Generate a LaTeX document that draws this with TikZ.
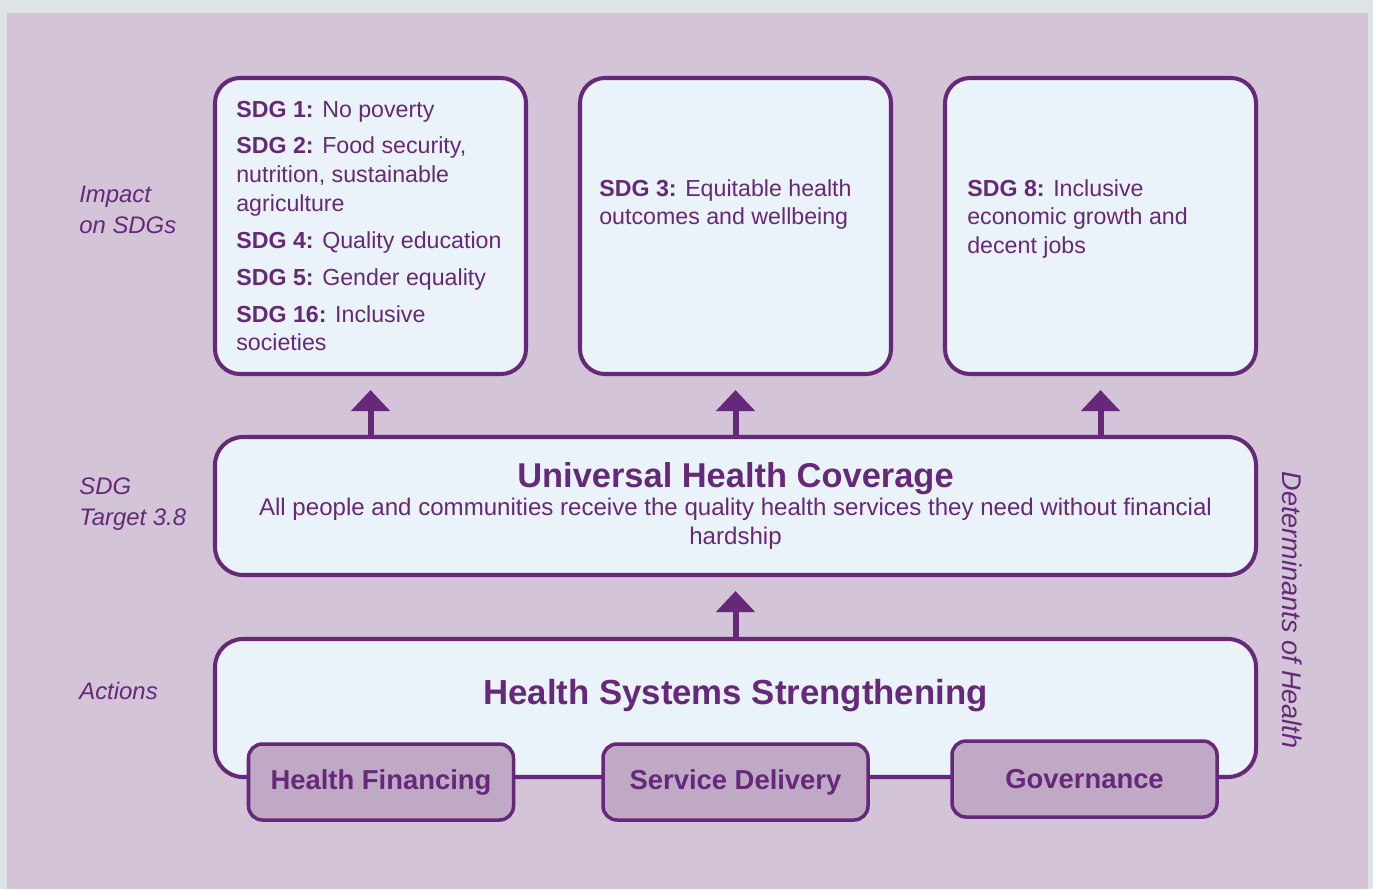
\documentclass[tikz,border=0pt]{standalone}
\usepackage{fontspec}
\setmainfont{Liberation Sans}
\usepackage{tikz}
\usetikzlibrary{arrows.meta}
\usetikzlibrary{positioning}
\definecolor{hsgray}{HTML}{DEE3E6}
\definecolor{hspanel}{HTML}{D3C4D8}
\definecolor{hsfill}{HTML}{EAF2FA}
\definecolor{hspurple}{HTML}{66297A}
\definecolor{hspillar}{HTML}{C0A9C5}
\tikzset{
    goal/.style={
           rectangle,
           rounded corners=0.5cm,
           draw=hspurple, line width=2.3pt,
           fill=hsfill,
           minimum width=6.22cm,
           minimum height=5.92cm,
           },
    band/.style={
           rectangle,
           rounded corners=0.56cm,
           draw=hspurple, line width=2.3pt,
           fill=hsfill,
           minimum width=20.82cm,
           minimum height=2.76cm,
           inner sep=0pt,
           text=hspurple,
           align=center,
           font=\fontsize{13.7}{16.4}\selectfont,
           },
    pillar/.style={
           rectangle,
           rounded corners=0.28cm,
           draw=hspurple, line width=2pt,
           fill=hspillar,
           minimum width=5.3cm,
           minimum height=1.52cm,
           text=hspurple,
           font=\fontsize{15.6}{18}\selectfont\bfseries,
           },
    goaltext/.style={
           align=left,
           inner sep=0pt,
           text=hspurple,
           font=\fontsize{13.2}{16.4}\selectfont,
           },
    headline/.style={
           inner sep=0pt,
           text=hspurple,
           font=\fontsize{19.8}{24}\selectfont\bfseries,
           },
    sidelabel/.style={
           align=left,
           inner sep=0pt,
           text=hspurple,
           font=\fontsize{13.6}{18}\selectfont\itshape,
           },
    uparrow/.style={
           -{Triangle[width=0.76cm,length=0.42cm]},
           draw=hspurple, line width=0.12cm,
           shorten >=0.28cm,
           },
}

\begin{document}
\begin{tikzpicture}
 \fill[hsgray] (0,0) rectangle (27.46,-17.78);
 \fill[hspanel] (0.14,-0.26) rectangle (27.35,-17.78);

 \node[goal] (sdgA) at (7.41,-4.52) {};
 \node[goal,
 right of=sdgA,
 node distance=7.3cm] (sdgB) {};
 \node[goal,
 right of=sdgB,
 node distance=7.3cm] (sdgC) {};
 \node[band,
 below of=sdgB,
 node distance=5.6cm] (uhc)
 {%
  {\fontsize{19.6}{24}\selectfont\bfseries Universal Health Coverage}\\
  All people and communities receive the quality health services they need without financial\\
  hardship
 };
 \node[band,
 below of=uhc,
 node distance=4.04cm] (hss) {};
 \node[headline] (hsstitle) at ([yshift=-1.18cm]hss.north) {Health Systems Strengthening};
 \node[pillar,
 below of=hss,
 node distance=1.48cm] (delivery) {Service Delivery};
 \node[pillar,
 left of=delivery,
 node distance=7.09cm] (financing) {Health Financing};
 \node[pillar,
 right of=delivery,
 node distance=6.98cm,
 yshift=0.06cm] (governance) {Governance};

 \node[goaltext, anchor=west] (sdgAtext) at ([xshift=0.46cm,yshift=0cm]sdgA.west)
 {%
  \textbf{SDG 1:} No poverty\\[0.16cm]
  \textbf{SDG 2:} Food security,\\
  nutrition, sustainable\\
  agriculture\\[0.16cm]
  \textbf{SDG 4:} Quality education\\[0.16cm]
  \textbf{SDG 5:} Gender equality\\[0.16cm]
  \textbf{SDG 16:} Inclusive\\
  societies
 };
 \node[goaltext, anchor=north west] (sdgBtext) at ([xshift=0.42cm,yshift=-2.06cm]sdgB.north west)
 {%
  \textbf{SDG 3:} Equitable health\\
  outcomes and wellbeing
 };
 \node[goaltext, anchor=north west] (sdgCtext) at ([xshift=0.48cm,yshift=-2.06cm]sdgC.north west)
 {%
  \textbf{SDG 8:} Inclusive\\
  economic growth and\\
  decent jobs
 };

 \node[sidelabel, anchor=west] (impact) at (1.58,-4.2) {Impact\\on SDGs};
 \node[sidelabel, anchor=west] (target) at (1.58,-10.08) {SDG\\Target 3.8};
 \node[sidelabel, anchor=west] (actions) at (1.58,-13.82) {Actions};
 \node[sidelabel, rotate=-90, font=\fontsize{15.4}{18}\selectfont\itshape] (determinants) at (25.84,-12.2) {Determinants of Health};

 % arrows up from each level
 \draw[uparrow] (sdgA |- uhc.north) -- (sdgA.south);
 \draw[uparrow] (sdgB |- uhc.north) -- (sdgB.south);
 \draw[uparrow] (sdgC |- uhc.north) -- (sdgC.south);
 \draw[uparrow] (hss.north) -- (uhc.south);
\end{tikzpicture}
\end{document}
